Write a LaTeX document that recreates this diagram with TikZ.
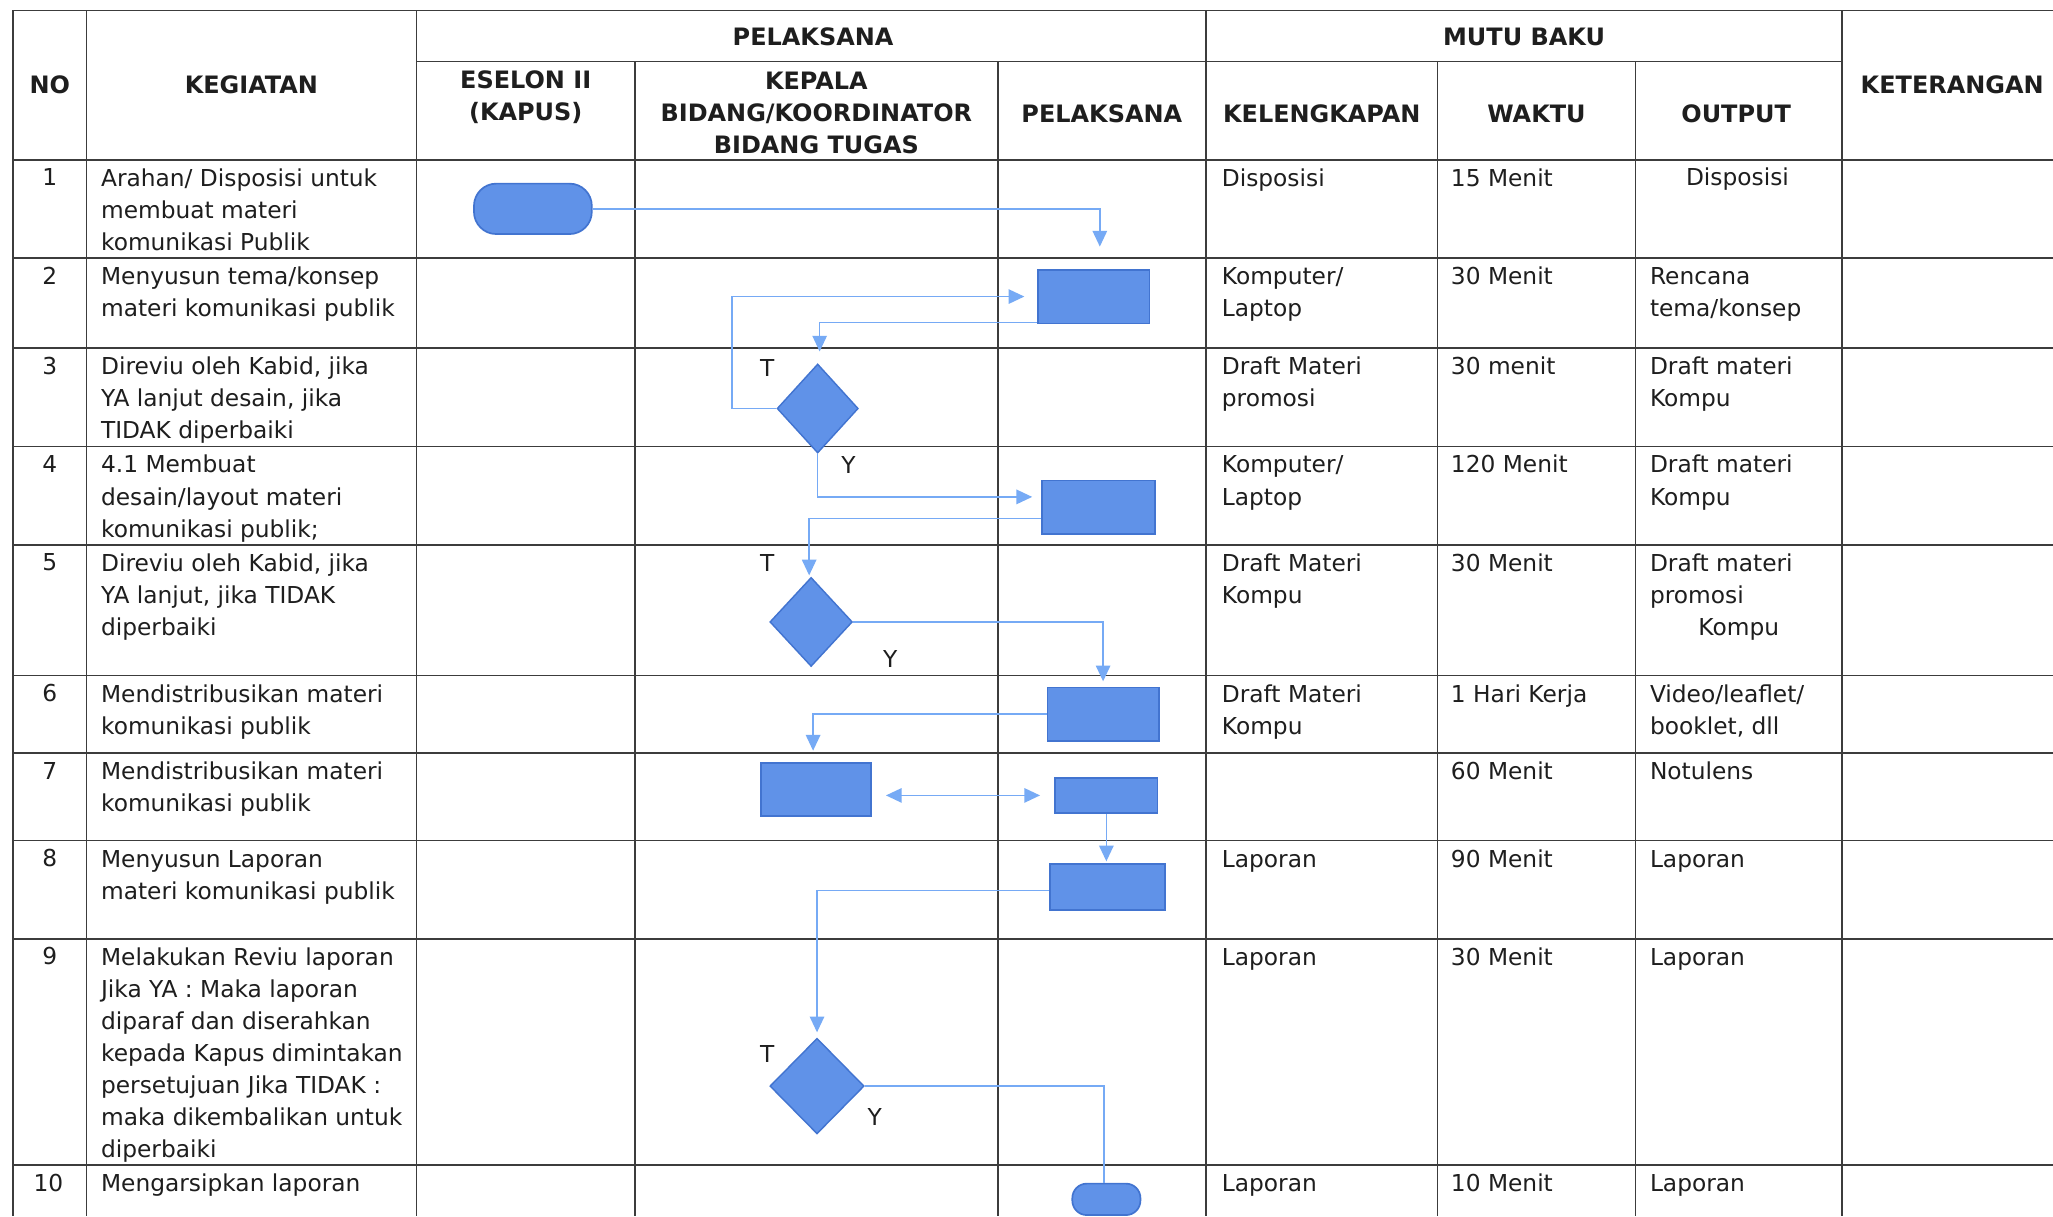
\documentclass[tikz,border=0pt]{standalone}
\usepackage{fontspec}
\setmainfont{DejaVu Sans}
\usetikzlibrary{arrows.meta,shapes.geometric,calc}
\definecolor{shapefill}{RGB}{96,146,232}
\definecolor{shapedraw}{RGB}{66,116,208}
\definecolor{flow}{RGB}{118,170,245}
\definecolor{gridc}{RGB}{60,60,60}
\definecolor{ink}{RGB}{30,30,30}
\newcommand\bodyfont{\fontsize{17.8}{24.5}\selectfont}
\newcommand\hdrfont{\fontsize{18.3}{24.5}\selectfont\bfseries}
\newcommand\fl{\rule{0pt}{14pt}}
\tikzset{
  tbl/.style={draw=gridc, line width=1.3pt},
  proc/.style={rectangle, draw=shapedraw, fill=shapefill, line width=1.3pt, inner sep=0pt},
  term/.style={proc, rounded corners=#1},
  dec/.style={diamond, draw=shapedraw, fill=shapefill, line width=1.1pt, inner sep=0pt},
  flowline/.style={draw=flow, line width=1.2pt},
  arr/.style={flowline, -{Triangle[length=12pt,width=11pt]}},
  arrtwo/.style={flowline, {Triangle[length=12pt,width=11pt]}-{Triangle[length=12pt,width=11pt]}},
  cell/.style={anchor=north west, inner sep=0pt, align=left, font=\bodyfont, text=ink},
  num/.style={anchor=base, inner sep=0pt, font=\bodyfont, text=ink},
  hdr/.style={anchor=center, inner sep=0pt, align=center, font=\hdrfont, text=ink},
  lbl/.style={anchor=center, inner sep=0pt, font=\bodyfont, text=ink}
}
\begin{document}
\begin{tikzpicture}[x=1pt,y=-1pt]
\useasboundingbox[fill=white] (0,0) rectangle (1568,929);

% ---------- table grid ----------
\foreach \yy in {8,122,197,266,341,416,516,575,642,717,890}
  \draw[tbl] (10,\yy) -- (1568,\yy);
\draw[tbl] (318,47) -- (1407,47);
\foreach \xx in {10,66,318,921,1407}
  \draw[tbl] (\xx,8) -- (\xx,929);
\foreach \xx in {485,762,1098,1249}
  \draw[tbl] (\xx,47) -- (\xx,929);

% ---------- headers ----------
\node[hdr] (hNo) at (38,65) {NO};
\node[hdr] (hKeg) at (192,65) {KEGIATAN};
\node[hdr] (hPel) at (621,28) {PELAKSANA};
\node[hdr] (hMutu) at (1164,28) {MUTU BAKU};
\node[hdr] (hEse) at (401.5,74) {ESELON II\\(KAPUS)};
\node[hdr] (hKep) at (623.5,86.5) {KEPALA\\BIDANG/KOORDINATOR\\BIDANG TUGAS};
\node[hdr] (hPel2) at (841.5,87) {PELAKSANA};
\node[hdr] (hKel) at (1009.5,87) {KELENGKAPAN};
\node[hdr] (hWak) at (1173.5,87) {WAKTU};
\node[hdr] (hOut) at (1326,87) {OUTPUT};
\node[hdr] (hKet) at (1491,65) {KETERANGAN};

% ---------- NO column ----------
\node[num] (n1) at (38,142) {1};
\node[num] (n2) at (38,217) {2};
\node[num] (n3) at (38,286) {3};
\node[num] (n4) at (38,361) {4};
\node[num] (n5) at (38,436) {5};
\node[num] (n6) at (38,536) {6};
\node[num] (n7) at (38,595) {7};
\node[num] (n8) at (38,662) {8};
\node[num] (n9) at (38,737) {9};
\node[num] (n10) at (37,910) {10};

% ---------- KEGIATAN column ----------
\node[cell] (k1) at (77,128) {\fl Arahan/ Disposisi untuk\\membuat materi\\komunikasi Publik};
\node[cell] (k2) at (77,203) {\fl Menyusun tema/konsep\\materi komunikasi publik};
\node[cell] (k3) at (77,272) {\fl Direviu oleh Kabid, jika\\YA lanjut desain, jika\\TIDAK diperbaiki};
\node[cell] (k4) at (77,347) {\fl 4.1 Membuat\\desain/layout materi\\komunikasi publik;};
\node[cell] (k5) at (77,422) {\fl Direviu oleh Kabid, jika\\YA lanjut, jika TIDAK\\diperbaiki};
\node[cell] (k6) at (77,522) {\fl Mendistribusikan materi\\komunikasi publik};
\node[cell] (k7) at (77,581) {\fl Mendistribusikan materi\\komunikasi publik};
\node[cell] (k8) at (77,648) {\fl Menyusun Laporan\\materi komunikasi publik};
\node[cell] (k9) at (77,723) {\fl Melakukan Reviu laporan\\Jika YA : Maka laporan\\diparaf dan diserahkan\\kepada Kapus dimintakan\\persetujuan Jika TIDAK :\\maka dikembalikan untuk\\diperbaiki};
\node[cell] (k10) at (77,896) {\fl Mengarsipkan laporan};

% ---------- KELENGKAPAN column ----------
\node[cell] (l1) at (933,128) {\fl Disposisi};
\node[cell] (l2) at (933,203) {\fl Komputer/\\Laptop};
\node[cell] (l3) at (933,272) {\fl Draft Materi\\promosi};
\node[cell] (l4) at (933,347) {\fl Komputer/\\Laptop};
\node[cell] (l5) at (933,422) {\fl Draft Materi\\Kompu};
\node[cell] (l6) at (933,522) {\fl Draft Materi\\Kompu};
\node[cell] (l8) at (933,648) {\fl Laporan};
\node[cell] (l9) at (933,723) {\fl Laporan};
\node[cell] (l10) at (933,896) {\fl Laporan};

% ---------- WAKTU column ----------
\node[cell] (w1) at (1108,128) {\fl 15 Menit};
\node[cell] (w2) at (1108,203) {\fl 30 Menit};
\node[cell] (w3) at (1108,272) {\fl 30 menit};
\node[cell] (w4) at (1108,347) {\fl 120 Menit};
\node[cell] (w5) at (1108,422) {\fl 30 Menit};
\node[cell] (w6) at (1108,522) {\fl 1 Hari Kerja};
\node[cell] (w7) at (1108,581) {\fl 60 Menit};
\node[cell] (w8) at (1108,648) {\fl 90 Menit};
\node[cell] (w9) at (1108,723) {\fl 30 Menit};
\node[cell] (w10) at (1108,896) {\fl 10 Menit};

% ---------- OUTPUT column ----------
\node[num] (o1) at (1327,142) {Disposisi};
\node[cell] (o2) at (1260,203) {\fl Rencana\\tema/konsep};
\node[cell] (o3) at (1260,272) {\fl Draft materi\\Kompu};
\node[cell] (o4) at (1260,347) {\fl Draft materi\\Kompu};
\node[cell] (o5) at (1260,422) {\fl Draft materi\\promosi};
\node[num] (o5b) at (1328,485) {Kompu};
\node[cell] (o6) at (1260,522) {\fl Video/leaflet/\\booklet, dll};
\node[cell] (o7) at (1260,581) {\fl Notulens};
\node[cell] (o8) at (1260,648) {\fl Laporan};
\node[cell] (o9) at (1260,723) {\fl Laporan};
\node[cell] (o10) at (1260,896) {\fl Laporan};

% ---------- flow shapes ----------
\node[term=17pt, minimum width=90pt, minimum height=38.5pt] (t1) at (407,159.5) {};
\node[proc, minimum width=85pt, minimum height=41pt] (r2) at (835.5,226.5) {};
\node[dec, minimum width=62pt, minimum height=68pt] (d3) at (624.5,312) {};
\node[proc, minimum width=86pt, minimum height=41pt] (r4) at (839,387.5) {};
\node[dec, minimum width=63pt, minimum height=68pt] (d5) at (619.5,475) {};
\node[proc, minimum width=85pt, minimum height=41pt] (r6) at (842.5,545.5) {};
\node[proc, minimum width=84pt, minimum height=40pt] (r7a) at (623,603) {};
\node[proc, minimum width=78pt, minimum height=27pt] (r7b) at (845,607.5) {};
\node[proc, minimum width=88pt, minimum height=35pt] (r8) at (846,677.5) {};
\node[dec, minimum width=72pt, minimum height=73pt] (d9) at (624,829.5) {};
\node[term=11pt, minimum width=52pt, minimum height=24pt] (t10) at (845,916) {};

% ---------- T / Y labels ----------
\node[lbl] (T3) at (586,281) {T};
\node[lbl] (Y3) at (648,355) {Y};
\node[lbl] (T5) at (586,430) {T};
\node[lbl] (Y5) at (680,503) {Y};
\node[lbl] (T9) at (586,805) {T};
\node[lbl] (Y9) at (668,853) {Y};

% ---------- connectors ----------
\draw[arr, shorten >=17pt] (t1.east) -| ([xshift=4.5pt]r2.north);
\draw[arr, shorten >=10pt] (d3.west) -- ++(-34,0) |- (r2.west);
\draw[arr, shorten >=9pt] ([yshift=1.5pt]r2.south west) -| ([xshift=1.5pt]d3.north);
\draw[arr, shorten >=7pt] (d3.south) |- ([yshift=8pt]r4.west);
\draw[arr, shorten >=1pt] ([yshift=-8.5pt]r4.west) -| ([xshift=-1.5pt]d5.north);
\draw[arr, shorten >=4pt] (d5.east) -| (r6.north);
\draw[arr, shorten >=9pt] (r6.west) -| ([xshift=-2pt]r7a.north);
\draw[arrtwo, shorten <=11pt, shorten >=11pt] (r7a.east |- r7b.west) -- (r7b.west);
\draw[arr, shorten >=1.5pt] (r7b.south) -- (r7b.south |- r8.north);
\draw[arr, shorten >=4pt] ([yshift=-2.5pt]r8.west) -| (d9.north);
\draw[flowline] (d9.east) -| ([xshift=-2pt]t10.north);
\end{tikzpicture}
\end{document}
